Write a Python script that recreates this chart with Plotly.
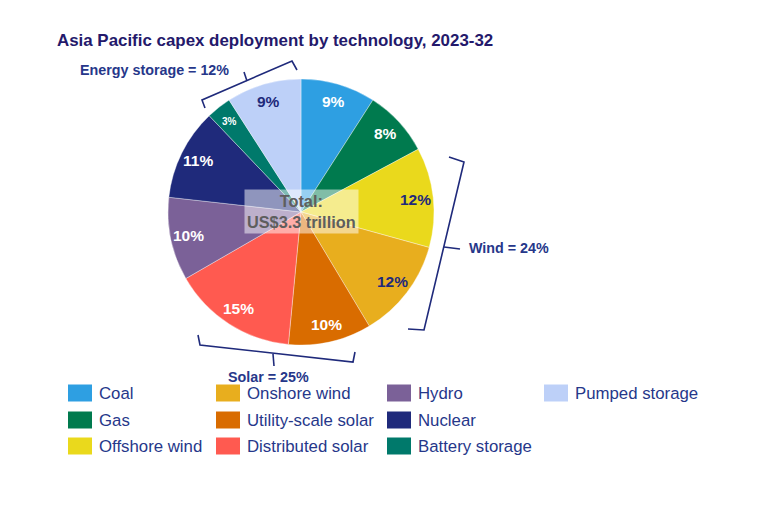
import math
import plotly.graph_objects as go

W, H = 757, 508

# ---- data ----
technologies = ["Coal", "Gas", "Offshore wind", "Onshore wind", "Utility-scale solar",
                "Distributed solar", "Hydro", "Nuclear", "Battery storage", "Pumped storage"]
shares = [9, 8, 12, 12, 10, 15, 10, 11, 3, 9]
colors = ["#2E9FE2", "#007A4E", "#EAD91C", "#E8AE1E", "#D96C00",
          "#FF5A50", "#7B6198", "#1F2A7B", "#00796B", "#BDD0F8"]
NAVY = "#1F2A7B"
label_colors = ["white", "white", NAVY, NAVY, "white", "white", "white", "white", "white", NAVY]
label_sizes = [15.5, 15.5, 15.5, 15.5, 15.5, 15.5, 15.5, 15.5, 10, 15.5]

legend_columns = [["Coal", "Gas", "Offshore wind"],
                  ["Onshore wind", "Utility-scale solar", "Distributed solar"],
                  ["Hydro", "Nuclear", "Battery storage"],
                  ["Pumped storage"]]
group_names = ["Energy storage", "Wind", "Solar"]
group_shares = [12, 24, 25]
total_text = "Total:<br>US$3.3 trillion"
title_text = "Asia Pacific capex deployment by technology, 2023-32"

FONT = "Liberation Sans, Arial, sans-serif"
TEXT_NAVY = "#26378A"

# the page body has an 8px margin; coordinates below are page pixels
OFF = 8


def px(x):
    return (x - OFF) / W


def py(y):
    return 1 - (y - OFF) / H


# pie geometry (page pixels)
cx, cy, r = 301, 212, 133
dom = dict(x=[px(cx - r), px(cx + r)], y=[py(cy + r), py(cy - r)])

fig = go.Figure()
fig.add_trace(go.Pie(
    labels=technologies,
    values=shares,
    textinfo="none",
    marker=dict(colors=colors, line=dict(color="rgba(255,255,255,0.6)", width=0.6)),
    sort=False,
    direction="clockwise",
    rotation=0,
    showlegend=False,
    hoverinfo="label+percent",
    domain=dom,
))

shapes = []
annotations = []

# slice labels: placed at the angular middle of each slice, derived from the shares
total = sum(shares)
acc = 0
LABEL_R = 0.865
for s, col, size in zip(shares, label_colors, label_sizes):
    theta = math.radians((acc + s / 2) / total * 360)
    acc += s
    lx = cx + LABEL_R * r * math.sin(theta)
    ly = cy - LABEL_R * r * math.cos(theta)
    annotations.append(dict(x=px(lx), y=py(ly), xref="paper", yref="paper",
                            xanchor="center", yanchor="middle", showarrow=False,
                            text=f"<b>{s}%</b>",
                            font=dict(family=FONT, size=size, color=col)))

# title
annotations.append(dict(x=px(55), y=py(40), xref="paper", yref="paper", xanchor="left",
                        yanchor="middle", showarrow=False, text=f"<b>{title_text}</b>",
                        font=dict(family=FONT, size=16.9, color="#24196B")))

# center total box
annotations.append(dict(x=px(cx), y=py(212), xref="paper", yref="paper", xanchor="center",
                        yanchor="middle", showarrow=False, text=f"<b>{total_text}</b>",
                        font=dict(family=FONT, size=16.3, color="#5E5E5E"),
                        bgcolor="rgba(255,255,255,0.5)", borderpad=2))


# brackets
def path(points):
    return "M " + " L ".join(f"{px(x)},{py(y)}" for x, y in points)


line_style = dict(color=NAVY, width=1.6)
# energy storage bracket
shapes.append(dict(type="path", xref="paper", yref="paper", line=line_style,
                   path=path([(205, 108), (202, 100), (292, 61), (297, 70)])))
shapes.append(dict(type="path", xref="paper", yref="paper", line=line_style,
                   path=path([(247, 81), (244, 72)])))
# wind bracket
shapes.append(dict(type="path", xref="paper", yref="paper", line=line_style,
                   path=path([(449, 157), (464, 162), (424, 330), (408, 329)])))
shapes.append(dict(type="path", xref="paper", yref="paper", line=line_style,
                   path=path([(444, 247), (460, 249)])))
# solar bracket
shapes.append(dict(type="path", xref="paper", yref="paper", line=line_style,
                   path=path([(198, 335), (200, 345), (353, 362), (355, 352)])))
shapes.append(dict(type="path", xref="paper", yref="paper", line=line_style,
                   path=path([(273, 354), (274, 366)])))

group_pos = [(78, 70, "left"), (467, 248, "left"), (268, 377, "center")]
for name, share, (gx, gy, anc) in zip(group_names, group_shares, group_pos):
    annotations.append(dict(x=px(gx), y=py(gy), xref="paper", yref="paper", xanchor=anc,
                            yanchor="middle", showarrow=False,
                            text=f"<b>{name} = {share}%</b>",
                            font=dict(family=FONT, size=14.3, color=TEXT_NAVY)))

# legend (swatches + labels)
col_x = [68, 216, 387, 544]
row_y = [393, 420, 446]
color_of = dict(zip(technologies, colors))
for ci, col in enumerate(legend_columns):
    for ri, name in enumerate(col):
        x0, yc = col_x[ci], row_y[ri]
        shapes.append(dict(type="rect", xref="paper", yref="paper",
                           x0=px(x0), x1=px(x0 + 24), y0=py(yc + 8.5), y1=py(yc - 8.5),
                           fillcolor=color_of[name], line=dict(width=0)))
        annotations.append(dict(x=px(x0 + 29), y=py(yc), xref="paper", yref="paper",
                                xanchor="left", yanchor="middle", showarrow=False,
                                text=name, font=dict(family=FONT, size=16.8, color=TEXT_NAVY)))

fig.update_layout(
    width=W, height=H,
    margin=dict(l=0, r=0, t=0, b=0),
    paper_bgcolor="white", plot_bgcolor="white",
    shapes=shapes, annotations=annotations,
    font=dict(family=FONT),
)

fig.write_html("out.html")
